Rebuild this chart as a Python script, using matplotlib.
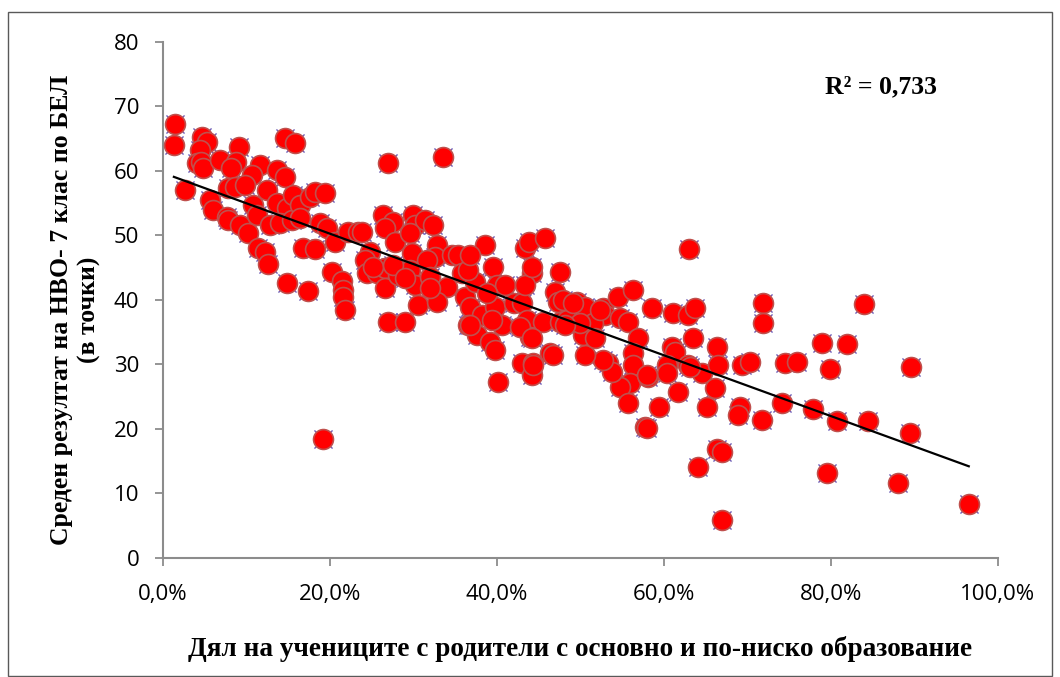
import matplotlib.pyplot as plt
import numpy as np
from matplotlib.patches import Rectangle
from matplotlib.ticker import FuncFormatter

# дял на учениците с родители с основно и по-ниско образование (%)
share = [
    1.4, 1.3, 2.6, 4.7, 5.3, 4.4, 4.1, 4.6, 4.8, 6.8, 9.1, 8.7, 8.1, 7.8, 8.6, 5.6, 6.0, 7.7, 7.8, 9.2,
    10.2, 14.6, 15.8, 11.6, 10.7, 13.7, 14.6, 12.5, 9.8, 13.7, 14.9, 15.6, 10.8, 11.3, 12.8, 14.0, 15.4,
    11.4, 12.2, 12.6, 14.9,
    16.4, 17.6, 18.2, 19.4, 16.4, 18.8, 19.6, 20.6, 22.2, 23.4, 16.8, 18.2, 17.4, 20.2, 21.4, 21.6, 21.6,
    21.8, 19.2, 26.9, 33.5, 23.8, 26.3, 27.5, 26.6, 27.8, 29.9, 30.2, 31.4, 32.3, 29.6, 32.8, 29.8, 32.6,
    31.6, 34.6, 35.3, 24.8, 24.2, 24.4, 25.6, 26.6, 26.6, 28.1, 29.6, 30.2, 32.0, 34.0, 30.5, 32.8, 26.9,
    29.0, 25.1, 27.5, 29.0, 32.0,
    35.8, 36.2, 36.8, 37.4, 38.2, 36.5, 37.6, 39.2, 39.8, 40.1, 38.6, 39.5, 40.0, 41.0, 39.8, 40.6, 39.4,
    38.8, 42.0, 43.0, 43.4, 43.8, 44.2, 43.4, 43.6, 44.0, 43.0, 44.3, 44.2, 45.7, 36.5, 36.8, 42.8, 45.5,
    46.3, 44.3, 44.2, 44.2, 36.8,
    47.5, 46.9, 47.3, 47.5, 48.4, 49.6, 50.5, 52.7, 52.9, 51.5, 54.7, 55.7, 54.5, 56.3, 58.6, 61.1, 62.9,
    63.7, 63.5, 66.3, 61.0, 61.3, 60.4, 62.9, 64.6, 66.1, 65.1, 61.7, 59.4, 57.7, 66.3, 56.9, 56.3, 56.3,
    55.9, 54.7, 55.7, 58.1, 53.3, 53.8, 52.7, 50.5, 50.3, 51.7, 63.0, 47.9, 49.1, 52.3, 49.9, 48.1, 60.4,
    63.1, 58.0, 66.5, 69.3, 70.3, 74.5, 75.9, 78.9, 81.9, 79.9, 84.0, 71.9, 71.9, 89.6, 74.1, 77.8, 80.7,
    84.4, 89.5, 79.5, 88.0, 96.5, 69.1, 68.9, 71.7, 58.0, 66.9, 64.1, 66.9, 46.7,
]

# среден резултат на НВО 7 клас по БЕЛ (точки)
score = [
    67.3, 64.0, 57.1, 65.3, 64.5, 63.3, 61.2, 61.4, 60.5, 61.7, 63.7, 61.4, 60.5, 57.4, 57.5, 55.5, 54.0,
    52.9, 52.4, 51.6, 50.4, 65.1, 64.3, 60.9, 59.4, 60.2, 59.1, 57.1, 57.8, 55.0, 54.3, 56.3, 54.7, 53.2,
    51.6, 51.9, 52.4, 48.1, 47.4, 45.6, 42.6,
    54.7, 56.0, 56.7, 56.6, 52.7, 51.9, 51.2, 49.0, 50.5, 50.5, 48.1, 47.9, 41.4, 44.3, 42.9, 41.6, 40.5,
    38.4, 18.4, 61.2, 62.2, 50.5, 53.2, 52.1, 51.2, 49.0, 53.2, 51.6, 52.4, 51.6, 50.4, 48.5, 47.3, 46.7,
    46.2, 47.0, 47.0, 47.4, 46.2, 44.2, 44.2, 45.0, 41.9, 43.9, 44.7, 42.3, 43.6, 42.0, 39.2, 39.7, 36.6,
    36.6, 45.1, 45.4, 43.4, 41.9,
    44.2, 40.5, 38.9, 42.8, 37.7, 36.1, 34.6, 33.5, 32.2, 27.3, 48.5, 45.1, 42.3, 42.3, 38.9, 36.1, 36.9,
    41.1, 39.5, 39.5, 48.1, 49.0, 44.2, 42.3, 36.9, 34.3, 30.2, 30.2, 28.4, 49.6, 44.7, 36.1, 35.8, 36.6,
    31.8, 29.9, 34.1, 45.1, 47.0,
    44.3, 41.2, 39.7, 36.6, 36.9, 39.7, 38.9, 38.8, 37.7, 36.4, 37.2, 36.6, 40.5, 41.6, 38.8, 38.0, 37.7,
    38.8, 34.1, 32.7, 32.7, 31.9, 29.9, 29.9, 28.7, 26.4, 23.4, 25.7, 23.4, 20.3, 16.9, 34.1, 31.8, 29.9,
    27.1, 26.5, 24.0, 28.1, 30.2, 28.9, 30.7, 31.5, 34.6, 34.1, 47.9, 40.0, 39.5, 38.4, 36.4, 36.1, 28.7,
    29.6, 28.4, 29.9, 29.9, 30.4, 30.2, 30.4, 33.3, 33.2, 29.3, 39.4, 39.5, 36.4, 29.6, 24.0, 23.1, 21.2,
    21.2, 19.4, 13.2, 11.6, 8.4, 23.4, 22.2, 21.4, 20.2, 16.4, 14.1, 5.9, 31.5,
]

x = np.array(share)
y = np.array(score)

# линеен тренд
k, b = np.polyfit(x, y, 1)
xt = np.array([x.min(), x.max()])

fig = plt.figure(figsize=(10.6, 6.77), dpi=100)
ax = fig.add_axes([0.1538, 0.1758, 0.7877, 0.7622])

ax.scatter(x, y, marker='x', s=170, c='#7060b8', linewidths=1.0, zorder=2)
ax.scatter(x, y, marker='o', s=205, c='#ff0000', edgecolors='#c0504d', linewidths=1.2, zorder=3)
ax.plot(xt, k * xt + b, color='black', lw=1.6, zorder=4)

ax.set_xlim(0, 100)
ax.set_ylim(0, 80)
ax.set_xticks(np.arange(0, 101, 20))
ax.set_yticks(np.arange(0, 81, 10))
ax.xaxis.set_major_formatter(FuncFormatter(lambda v, p: f'{v:.1f}%'.replace('.', ',')))

for s in ['top', 'right']:
    ax.spines[s].set_visible(False)
for s in ['left', 'bottom']:
    ax.spines[s].set_color('#8c8c8c')
    ax.spines[s].set_linewidth(1.5)
ax.tick_params(colors='#8c8c8c', labelcolor='black', length=6, width=1.3, labelsize=16)
ax.tick_params(axis='x', pad=13)
ax.tick_params(axis='y', pad=11)
for t in ax.get_xticklabels() + ax.get_yticklabels():
    t.set_fontfamily('Open Sans')

ax.set_xlabel('Дял на учениците с родители с основно и по-ниско образование',
              fontfamily='Liberation Serif', fontweight='bold', fontsize=19.6, labelpad=22)
ax.set_ylabel('Среден резултат на НВО- 7 клас по БЕЛ\n(в точки)',
              fontfamily='Liberation Serif', fontweight='bold', fontsize=18.5,
              linespacing=1.25)
ax.yaxis.set_label_coords(-0.074, 0.48)

ax.text(79.3, 73, 'R² = 0,733', fontfamily='Liberation Serif', fontweight='bold',
        fontsize=18.5, va='center', ha='left')

fig.patches.append(Rectangle((8 / 1060, 1 / 677), 1044 / 1060, 664 / 677,
                             transform=fig.transFigure, fill=False,
                             edgecolor='#595959', lw=1.0))

fig.savefig('out.png', dpi=100)
